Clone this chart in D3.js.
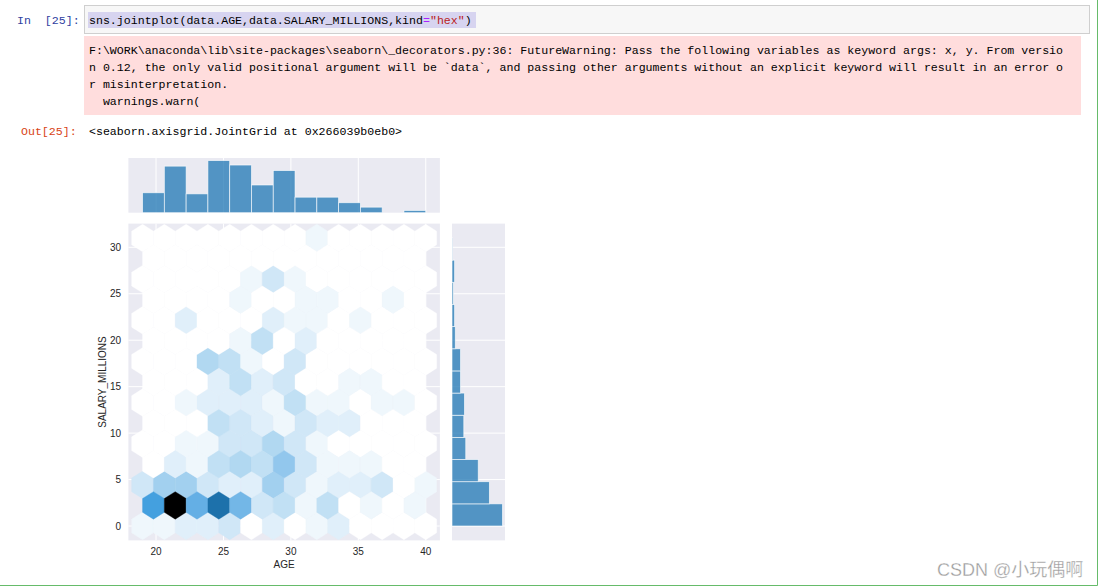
<!DOCTYPE html>
<html><head><meta charset="utf-8">
<script src="https://cdn.jsdelivr.net/npm/d3@7"></script>
<style>body{margin:0;background:#fff;} svg{display:block;} text{white-space:pre;}</style>
</head><body>
<svg id="c" width="1104" height="587"></svg>
<script>
// ---------------- data ----------------
const ageTicks = [20, 25, 30, 35, 40];
const salaryTicks = [0, 5, 10, 15, 20, 25, 30];
const ageMin = 19, ageMax = 40;       // AGE data extent
const salMin = 0, salMax = 31;        // SALARY_MILLIONS data extent
const gridSize = 13;                  // hexbin gridsize
// hexbin counts, lattice A (rows at salMin + j*sy), bottom row first, 14 columns
const hexCountsA = [
  [1,1,2,2,3,0,2,0,1,2,0,0,0,0],
  [3,6,6,3,2,2,6,3,1,2,2,3,0,1],
  [0,0,1,1,3,3,5,3,1,0,0,0,0,0],
  [0,0,1,2,2,2,1,4,1,1,0,1,1,0],
  [0,0,0,5,4,1,0,3,0,0,0,0,0,0],
  [0,0,2,0,0,0,2,1,1,0,1,0,0,0],
  [0,0,0,0,0,1,3,1,0,0,0,0,0,0],
  [0,0,0,0,0,0,0,0,1,0,0,0,0,0]
];
// lattice B (rows at salMin + (j+0.5)*sy), bottom row first, 13 columns
const hexCountsB = [
  [12,28,10,17,9,3,4,1,4,0,1,0,1],
  [0,2,1,4,5,4,7,3,1,1,1,0,0],
  [0,0,0,4,3,2,1,3,2,2,0,0,0],
  [0,0,0,2,4,2,3,0,0,1,1,0,0],
  [0,0,0,0,1,4,0,2,0,0,0,0,0],
  [0,0,0,0,1,0,0,1,1,0,0,1,0],
  [0,0,0,0,0,0,0,0,0,0,0,0,0]
];
const ageHistCounts = [18,42,17,47,43,25,38,14,14,9,5,0,2];       // 13 bins 19..40
const salaryHistCounts = [77,57,40,21,18,19,13,13,5,4,2,4,1];     // 13 bins 0..31, bottom first

const codeLine = ["sns.jointplot(data.AGE,data.SALARY_MILLIONS,kind", "=", "\"hex\"", ")"];
const warnLines = [
  "F:\\WORK\\anaconda\\lib\\site-packages\\seaborn\\_decorators.py:36: FutureWarning: Pass the following variables as keyword args: x, y. From versio",
  "n 0.12, the only valid positional argument will be `data`, and passing other arguments without an explicit keyword will result in an error o",
  "r misinterpretation.",
  "  warnings.warn("
];
const outText = "<seaborn.axisgrid.JointGrid at 0x266039b0eb0>";

// ---------------- notebook chrome ----------------
const svg = d3.select("#c");
const mono = "'Liberation Mono','DejaVu Sans Mono',monospace";
const sans = "'Liberation Sans',Arial,'DejaVu Sans',sans-serif";

svg.append("text").attr("x", 17).attr("y", 23.5).attr("font-family", mono).attr("font-size", 11.6)
  .attr("fill", "#303F9F").text("In  [25]:");
svg.append("rect").attr("x", 84.5).attr("y", 5.5).attr("width", 1005).attr("height", 28)
  .attr("fill", "#f7f7f7").attr("stroke", "#cfcfcf");
svg.append("rect").attr("x", 88).attr("y", 12).attr("width", 388).attr("height", 16).attr("fill", "#d7d4f0");
const code = svg.append("text").attr("x", 89).attr("y", 23.5).attr("font-family", mono).attr("font-size", 11.6);
const codeColors = ["#000", "#AA22FF", "#BA2121", "#000"];
codeLine.forEach((t, i) => code.append("tspan").attr("fill", codeColors[i]).text(t));

svg.append("rect").attr("x", 84).attr("y", 36).attr("width", 997).attr("height", 79).attr("fill", "#fdd");
warnLines.forEach((t, i) => {
  svg.append("text").attr("x", 89).attr("y", 53.5 + i * 17.3).attr("font-family", mono)
    .attr("font-size", 11.6).attr("fill", "#000").text(t);
});
svg.append("text").attr("x", 21).attr("y", 134.5).attr("font-family", mono).attr("font-size", 11.6)
  .attr("fill", "#D84315").text("Out[25]:");
svg.append("text").attr("x", 89).attr("y", 134.5).attr("font-family", mono).attr("font-size", 11.6)
  .attr("fill", "#000").text(outText);

// ---------------- chart ----------------
const M = {l: 128.4, r: 439.9, t: 223.6, b: 540.4};
const TOP = {t: 158, b: 212.7};
const RIGHT = {l: 452, r: 505};
const bg = "#eaeaf2", barColor = "#1f77b4", txt = "#262626";

const xPad = 0.05 * (ageMax - ageMin), yPad = 0.05 * (salMax - salMin);
const x = d3.scaleLinear().domain([ageMin - xPad, ageMax + xPad]).range([M.l, M.r]);
const y = d3.scaleLinear().domain([salMin - yPad, salMax + yPad]).range([M.b, M.t]);

// main axes background + grid
svg.append("rect").attr("x", M.l).attr("y", M.t).attr("width", M.r - M.l).attr("height", M.b - M.t).attr("fill", bg);
const gMain = svg.append("g");
ageTicks.forEach(t => gMain.append("line").attr("x1", x(t)).attr("x2", x(t)).attr("y1", M.t).attr("y2", M.b)
  .attr("stroke", "#fff").attr("stroke-width", 1));
salaryTicks.forEach(t => gMain.append("line").attr("y1", y(t)).attr("y2", y(t)).attr("x1", M.l).attr("x2", M.r)
  .attr("stroke", "#fff").attr("stroke-width", 1));

svg.append("clipPath").attr("id", "mainclip").append("rect")
  .attr("x", M.l).attr("y", M.t).attr("width", M.r - M.l).attr("height", M.b - M.t);

// hexbin
const ny = Math.floor(gridSize / Math.sqrt(3));
const sx = (ageMax - ageMin) / gridSize, sy = (salMax - salMin) / ny;
const hexes = [];
hexCountsA.forEach((row, j) => row.forEach((c, i) => hexes.push({cx: ageMin + i * sx, cy: salMin + j * sy, c})));
hexCountsB.forEach((row, j) => row.forEach((c, i) => hexes.push({cx: ageMin + (i + 0.5) * sx, cy: salMin + (j + 0.5) * sy, c})));
const hx = [0.5, 0.5, 0, -0.5, -0.5, 0].map(d => d * sx);
const hy = [-0.5, 0.5, 1, 0.5, -0.5, -1].map(d => d * sy / 3);

const base = d3.hsl(barColor);
const anchors = d3.range(12).map(k => d3.hsl(base.h, base.s, 1 - k / 11).rgb().toString());
const cmap = d3.scaleLinear().domain(d3.range(12).map(k => k / 11)).range(anchors).interpolate(d3.interpolateRgb);
const maxC = d3.max(hexes, d => d.c);

svg.append("g").attr("clip-path", "url(#mainclip)").selectAll("path").data(hexes).join("path")
  .attr("d", d => "M" + hx.map((o, k) => [x(d.cx + o), y(d.cy + hy[k])].join(",")).join("L") + "Z")
  .attr("fill", d => cmap(d.c / maxC)).attr("stroke", d => cmap(d.c / maxC)).attr("stroke-width", 0.4);

// axis tick labels
ageTicks.forEach(t => svg.append("text").attr("x", x(t)).attr("y", 554.5).attr("text-anchor", "middle")
  .attr("font-family", sans).attr("font-size", 10).attr("fill", txt).text(t));
salaryTicks.forEach(t => svg.append("text").attr("x", 121).attr("y", y(t)).attr("dy", "0.35em").attr("text-anchor", "end")
  .attr("font-family", sans).attr("font-size", 10).attr("fill", txt).text(t));
svg.append("text").attr("x", (M.l + M.r) / 2).attr("y", 567.5).attr("text-anchor", "middle")
  .attr("font-family", sans).attr("font-size", 10).attr("fill", txt).text("AGE");
svg.append("text").attr("transform", `translate(105.5,${(M.t + M.b) / 2}) rotate(-90)`).attr("text-anchor", "middle")
  .attr("font-family", sans).attr("font-size", 10).attr("fill", txt).text("SALARY_MILLIONS");

// top marginal histogram
svg.append("rect").attr("x", M.l).attr("y", TOP.t).attr("width", M.r - M.l).attr("height", TOP.b - TOP.t).attr("fill", bg);
ageTicks.forEach(t => svg.append("line").attr("x1", x(t)).attr("x2", x(t)).attr("y1", TOP.t).attr("y2", TOP.b)
  .attr("stroke", "#fff").attr("stroke-width", 1));
const yTop = d3.scaleLinear().domain([0, d3.max(ageHistCounts) * 1.05]).range([TOP.b, TOP.t]);
const ageW = (ageMax - ageMin) / ageHistCounts.length;
svg.append("g").selectAll("rect").data(ageHistCounts).join("rect")
  .attr("x", (d, i) => x(ageMin + i * ageW)).attr("width", x(ageMin + ageW) - x(ageMin))
  .attr("y", d => yTop(d)).attr("height", d => yTop(0) - yTop(d))
  .attr("fill", barColor).attr("fill-opacity", 0.75).attr("stroke", "#fff").attr("stroke-opacity", 0.75).attr("stroke-width", 0.8);

// right marginal histogram
svg.append("rect").attr("x", RIGHT.l).attr("y", M.t).attr("width", RIGHT.r - RIGHT.l).attr("height", M.b - M.t).attr("fill", bg);
salaryTicks.forEach(t => svg.append("line").attr("y1", y(t)).attr("y2", y(t)).attr("x1", RIGHT.l).attr("x2", RIGHT.r)
  .attr("stroke", "#fff").attr("stroke-width", 1));
const xRight = d3.scaleLinear().domain([0, d3.max(salaryHistCounts) * 1.05]).range([RIGHT.l, RIGHT.r]);
const salW = (salMax - salMin) / salaryHistCounts.length;
svg.append("g").selectAll("rect").data(salaryHistCounts).join("rect")
  .attr("y", (d, i) => y(salMin + (i + 1) * salW)).attr("height", y(salMin) - y(salMin + salW))
  .attr("x", xRight(0)).attr("width", d => xRight(d) - xRight(0))
  .attr("fill", barColor).attr("fill-opacity", 0.75).attr("stroke", "#fff").attr("stroke-opacity", 0.75).attr("stroke-width", 0.8);

// cell border (edit mode) + watermark
svg.append("line").attr("x1", 1097.5).attr("x2", 1097.5).attr("y1", 0).attr("y2", 585.5).attr("stroke", "#66BB6A");
svg.append("line").attr("x1", 0).attr("x2", 1097.5).attr("y1", 585.5).attr("y2", 585.5).attr("stroke", "#66BB6A");
svg.append("text").attr("x", 937).attr("y", 576).attr("font-family", "'Liberation Sans','Noto Sans CJK SC',sans-serif")
  .attr("font-size", 18).attr("fill", "#9a9a9a").attr("stroke", "#fff").attr("stroke-width", 0.3).text("CSDN @小玩偶啊");
</script>
</body></html>
